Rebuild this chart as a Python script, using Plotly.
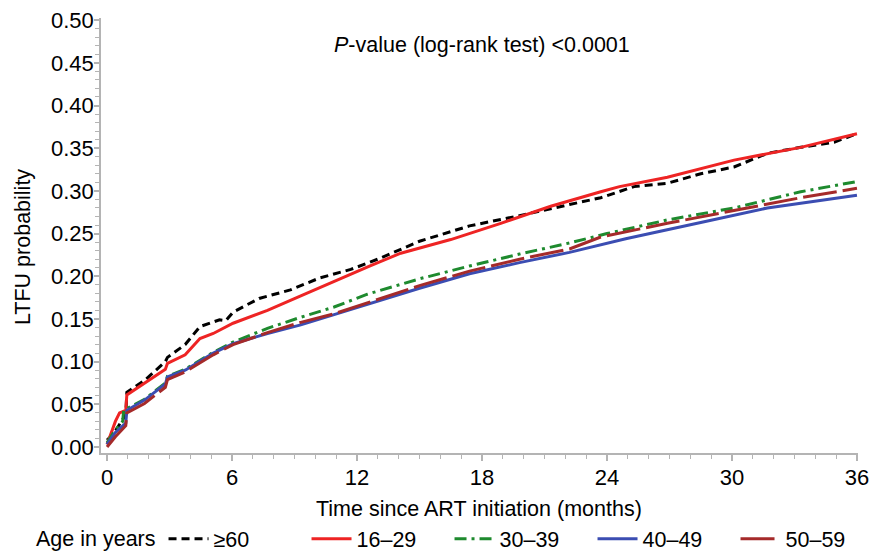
import plotly.graph_objects as go

# ---- data ----
t_60 = [0, 0.3, 0.9, 0.95, 1.8, 2.8, 2.9, 3.75, 4.46, 5.4, 5.7, 6.05, 7.3, 8.8, 10.2, 11.7, 13.1,
        15.0, 17.4, 19.8, 22.2, 23.7, 25.3, 26.9, 28.5, 30.1, 31.7, 33.3, 34.9, 36]
y_60 = [0.008, 0.015, 0.038, 0.064, 0.078, 0.100, 0.105, 0.120, 0.141, 0.149, 0.148, 0.158, 0.174,
        0.184, 0.198, 0.208, 0.221, 0.241, 0.259, 0.271, 0.284, 0.292, 0.305, 0.309, 0.320, 0.328,
        0.344, 0.351, 0.357, 0.367]

t_16 = [0, 0.2, 0.4, 0.6, 0.9, 0.95, 1.8, 2.8, 2.9, 3.75, 4.46, 5.1, 6.05, 7.7, 9.3, 10.9, 12.6,
        14.1, 16.5, 18.9, 21.3, 23.7, 24.6, 26.9, 30.1, 33.3, 36]
y_16 = [0.003, 0.016, 0.030, 0.040, 0.043, 0.061, 0.075, 0.091, 0.098, 0.108, 0.127, 0.133, 0.145,
        0.160, 0.177, 0.194, 0.212, 0.227, 0.243, 0.262, 0.282, 0.299, 0.305, 0.316, 0.336, 0.351,
        0.367]

t_30 = [0, 0.4, 0.75, 0.8, 1.8, 2.8, 2.9, 3.75, 5.1, 6.05, 7.7, 9.3, 10.9, 12.5, 15.0, 17.4, 19.8,
        22.2, 24.0, 26.9, 30.1, 33.3, 36]
y_30 = [0.005, 0.020, 0.030, 0.043, 0.056, 0.075, 0.083, 0.091, 0.111, 0.123, 0.139, 0.152, 0.164,
        0.179, 0.197, 0.212, 0.226, 0.239, 0.250, 0.266, 0.280, 0.299, 0.311]

t_40 = [0, 0.4, 0.9, 0.95, 1.8, 2.8, 2.9, 3.75, 5.1, 6.05, 7.7, 9.3, 10.9, 12.6, 15.0, 17.4, 19.8,
        22.2, 24.9, 28.5, 31.7, 36]
y_40 = [0.003, 0.017, 0.028, 0.043, 0.055, 0.074, 0.082, 0.090, 0.110, 0.121, 0.133, 0.143, 0.155,
        0.168, 0.186, 0.203, 0.216, 0.228, 0.244, 0.263, 0.280, 0.295]

t_50 = [0, 0.4, 0.9, 0.95, 1.8, 2.8, 2.9, 3.75, 5.1, 6.05, 7.7, 9.3, 10.9, 12.6, 15.0, 17.4, 19.8,
        22.2, 23.7, 26.9, 30.1, 33.3, 36]
y_50 = [0.000, 0.012, 0.025, 0.040, 0.051, 0.070, 0.079, 0.088, 0.108, 0.120, 0.134, 0.146, 0.156,
        0.170, 0.189, 0.206, 0.220, 0.232, 0.246, 0.262, 0.277, 0.292, 0.303]

x_ticks = [0, 6, 12, 18, 24, 30, 36]
y_ticks = [0.00, 0.05, 0.10, 0.15, 0.20, 0.25, 0.30, 0.35, 0.40, 0.45, 0.50]

FONT = "Arial, 'Liberation Sans', Helvetica, sans-serif"
AXC = "#b4b4b4"
FS = 21.5

series = [
    ("≥60", t_60, y_60, "#000000", "8px,5px"),
    ("16–29", t_16, y_16, "#EE2424", "solid"),
    ("30–39", t_30, y_30, "#1E8A2E", "12px,5px,3px,5px"),
    ("40–49", t_40, y_40, "#3B4DB2", "solid"),
    ("50–59", t_50, y_50, "#A52A2A", "34px,6px"),
]

fig = go.Figure()
for name, tx, ty, col, dash in series:
    fig.add_trace(go.Scatter(x=tx, y=ty, mode="lines", name=name,
                             line=dict(color=col, width=3, dash=dash)))

fig.update_layout(
    width=871, height=554,
    margin=dict(l=101, r=13, t=18, b=101, autoexpand=False),
    paper_bgcolor="white", plot_bgcolor="white",
    font=dict(family=FONT, size=FS, color="#000000"),
    showlegend=True,
    legend=dict(orientation="h", xref="paper", yref="paper",
                x=-0.0885, y=-0.197, xanchor="left", yanchor="middle",
                title=dict(text="Age in years", side="left", font=dict(size=FS)),
                font=dict(size=FS), entrywidth=88, entrywidthmode="pixels",
                itemwidth=40, tracegroupgap=0, bgcolor="rgba(0,0,0,0)"),
    annotations=[
        dict(x=18, y=0.471, xref="x", yref="y", showarrow=False,
             text="<i>P</i>-value (log-rank test) &lt;0.0001",
             font=dict(size=FS), xanchor="center", yanchor="middle"),
        dict(x=0.4993, y=-0.1287, xref="paper", yref="paper", showarrow=False,
             text="Time since ART initiation (months)",
             font=dict(size=FS), xanchor="center", yanchor="middle"),
        dict(x=-0.103, y=0.4736, xref="paper", yref="paper", showarrow=False,
             text="LTFU probability", textangle=-90,
             font=dict(size=FS), xanchor="center", yanchor="middle"),
    ],
)

fig.update_xaxes(
    range=[-0.29, 36.05], tickvals=x_ticks, ticktext=[str(v) for v in x_ticks],
    showgrid=False, zeroline=False, showline=True, linecolor=AXC, linewidth=1.5,
    ticks="outside", ticklen=6, tickcolor=AXC, tickwidth=1.5, ticklabelstandoff=-2,
    minor=dict(dtick=1, ticks="outside", ticklen=4, tickcolor=AXC, tickwidth=1, showgrid=False),
    tickfont=dict(size=22),
)
fig.update_yaxes(
    range=[-0.007, 0.5025], tickvals=y_ticks, ticktext=[f"{v:.2f}" for v in y_ticks],
    showgrid=False, zeroline=False, showline=True, linecolor=AXC, linewidth=1.5,
    ticks="outside", ticklen=5, tickcolor=AXC, tickwidth=1.5, ticklabelstandoff=-4,
    minor=dict(dtick=0.01, tick0=0, ticks="outside", ticklen=4, tickcolor=AXC, tickwidth=1, showgrid=False),
    tickfont=dict(size=22),
)

fig.write_html("out.html", config={"displayModeBar": False},
               post_script="document.body.style.margin='0px';")
